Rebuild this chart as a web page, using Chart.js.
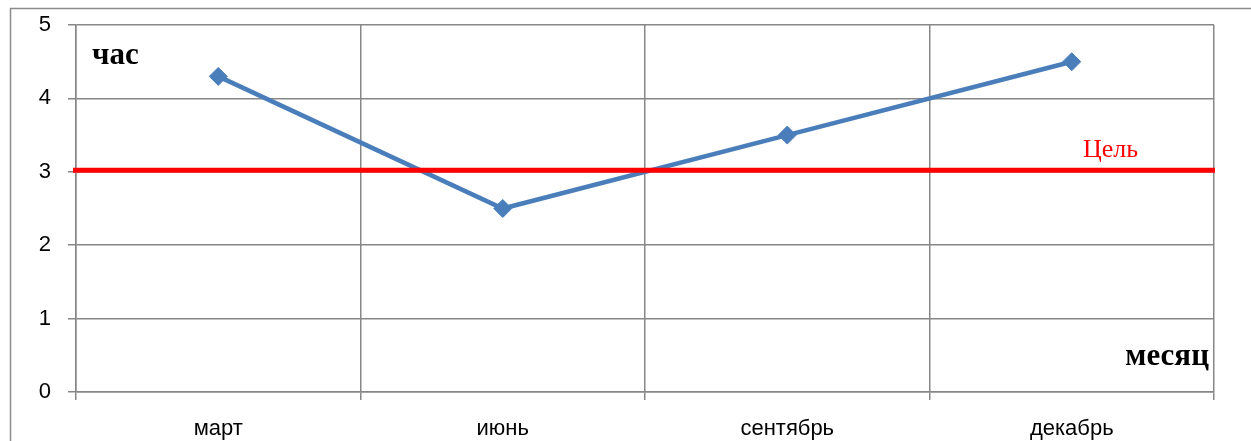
<!DOCTYPE html>
<html>
<head>
<meta charset="utf-8">
<script src="https://cdn.jsdelivr.net/npm/chart.js@4/dist/chart.umd.min.js"></script>
<style>
  html, body { margin: 0; padding: 0; background: #fff; }
  #wrap { width: 1251px; height: 441px; position: relative; }
</style>
</head>
<body>
<div id="wrap"><canvas id="c" width="1251" height="441"></canvas></div>
<script>
// Hours per month and the target level
const months = ['март', 'июнь', 'сентябрь', 'декабрь'];
const hours = [4.3, 2.5, 3.5, 4.5];
const goal = 3.02;
const yTicks = [0, 1, 2, 3, 4, 5];
const yTitle = 'час';
const xTitle = 'месяц';
const goalLabel = 'Цель';

const gridColor = '#878787';
const tickFont = { family: 'Liberation Sans', size: 22 };

// Outer frame, target line and the free-standing captions
const decor = {
  id: 'decor',
  beforeDraw(chart) {
    const ctx = chart.ctx;
    ctx.save();
    ctx.strokeStyle = '#8c8c8c';
    ctx.lineWidth = 1.5;
    ctx.strokeRect(10.5, 8.5, 1300, 500);
    ctx.restore();
  },
  afterDatasetsDraw(chart) {
    const { ctx, chartArea: a, scales } = chart;
    const y = scales.y.getPixelForValue(goal);
    ctx.save();
    ctx.strokeStyle = '#ff0000';
    ctx.lineWidth = 5;
    ctx.beginPath();
    ctx.moveTo(a.left - 3, y);
    ctx.lineTo(a.right + 1, y);
    ctx.stroke();

    ctx.fillStyle = '#ff0000';
    ctx.font = '26px "Liberation Serif"';
    ctx.textAlign = 'left';
    ctx.textBaseline = 'alphabetic';
    ctx.fillText(goalLabel, 1083, 157);

    ctx.fillStyle = '#000';
    ctx.font = 'bold 31px "Liberation Serif"';
    ctx.fillText(yTitle, 92, 64);
    ctx.textAlign = 'right';
    ctx.fillText(xTitle, 1209, 365);
    ctx.restore();
  }
};

new Chart(document.getElementById('c'), {
  type: 'line',
  data: {
    labels: months,
    datasets: [{
      data: hours,
      borderColor: '#4a7ebb',
      backgroundColor: '#4a7ebb',
      borderWidth: 4.5,
      pointStyle: 'rectRot',
      pointRadius: 9,
      pointBorderWidth: 1,
      pointBackgroundColor: '#4a7ebb',
      pointBorderColor: '#4a7ebb',
      tension: 0,
      fill: false
    }]
  },
  options: {
    responsive: false,
    animation: false,
    events: [],
    layout: { padding: { left: 0, top: 25, right: 37, bottom: 0 } },
    plugins: { legend: { display: false }, tooltip: { enabled: false } },
    scales: {
      x: {
        offset: true,
        grid: { offset: true, color: gridColor, lineWidth: 1.5, tickLength: 8, drawTicks: true },
        border: { color: gridColor, width: 1.5 },
        ticks: { color: '#000', font: tickFont, padding: 16, maxRotation: 0 },
        afterFit(s) { s.height = 49; s.paddingLeft = 0; s.paddingRight = 0; }
      },
      y: {
        min: 0,
        max: 5,
        afterBuildTicks(s) { s.ticks = yTicks.map(v => ({ value: v })); },
        grid: { color: gridColor, lineWidth: 1.5, tickLength: 8 },
        border: { color: gridColor, width: 1.5 },
        ticks: { color: '#000', font: tickFont, padding: 17 },
        afterFit(s) { s.width = 76; s.paddingTop = 0; s.paddingBottom = 0; }
      }
    }
  },
  plugins: [decor]
});
</script>
</body>
</html>
